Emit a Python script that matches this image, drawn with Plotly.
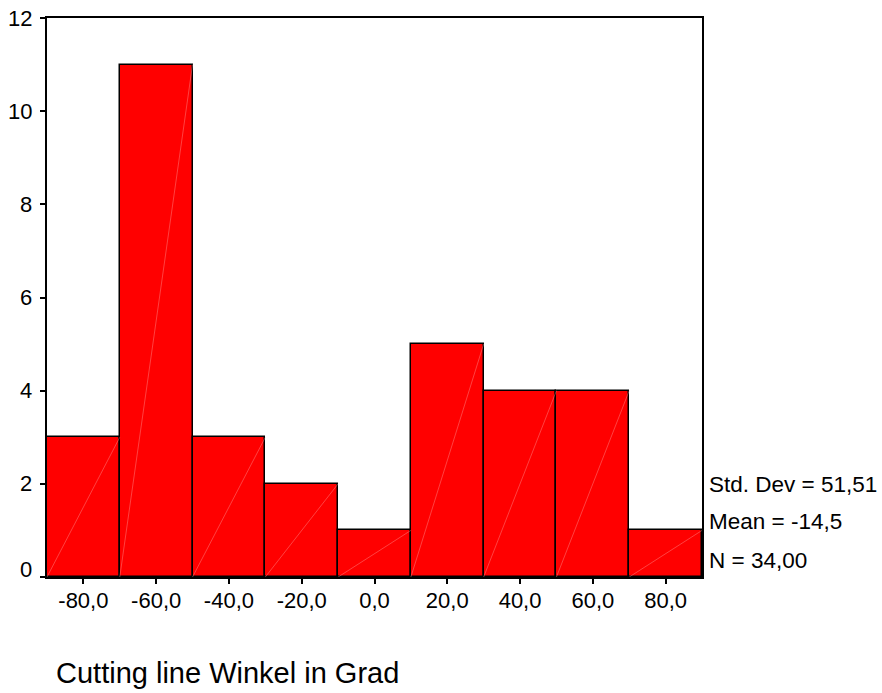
import plotly.graph_objects as go

# Histogram of cutting-line angles (degrees), bin width 20
bin_centers = [-80, -60, -40, -20, 0, 20, 40, 60, 80]
counts = [3, 11, 3, 2, 1, 5, 4, 4, 1]
bin_width = 20
tick_values = [-80, -60, -40, -20, 0, 20, 40, 60, 80]
tick_labels = ["-80,0", "-60,0", "-40,0", "-20,0", "0,0", "20,0", "40,0", "60,0", "80,0"]
y_ticks = [0, 2, 4, 6, 8, 10, 12]
stats_lines = ["Std. Dev = 51,51", "Mean = -14,5", "N = 34,00"]
x_title = "Cutting line Winkel in Grad"

FONT = "Liberation Sans, Arial, sans-serif"

fig = go.Figure()
fig.add_trace(go.Bar(
    x=bin_centers, y=counts, width=bin_width,
    marker=dict(color="#ff0000", line=dict(color="black", width=1.5)),
    hoverinfo="x+y",
))

# faint diagonal seams inside each bar (bottom-left to top-right)
diag_x, diag_y = [], []
for c, n in zip(bin_centers, counts):
    diag_x += [c - bin_width / 2, c + bin_width / 2, None]
    diag_y += [0, n, None]
fig.add_trace(go.Scatter(
    x=diag_x, y=diag_y, mode="lines",
    line=dict(color="rgba(255,170,170,0.55)", width=0.7),
    hoverinfo="skip",
))

ann = []
# y tick labels as annotations so the bottom one can sit slightly above its tick
for v in y_ticks:
    ann.append(dict(text=str(v), xref="paper", yref="y", x=0, y=v,
                    xanchor="right", yanchor="middle", showarrow=False,
                    xshift=-13, yshift=8 if v == 0 else 0,
                    font=dict(family=FONT, size=22, color="black")))
for text, yp in zip(stats_lines, [0.1646, 0.0984, 0.0304]):
    ann.append(dict(text=text, xref="paper", yref="paper", x=1.007, y=yp,
                    xanchor="left", yanchor="middle", showarrow=False,
                    font=dict(family=FONT, size=22.5, color="black")))
ann.append(dict(text=x_title, xref="paper", yref="paper", x=0.011, y=-0.1717,
                xanchor="left", yanchor="middle", showarrow=False,
                font=dict(family=FONT, size=29, color="black")))

fig.update_layout(
    width=882, height=693,
    margin=dict(l=47, r=180, t=18, b=116),
    paper_bgcolor="white", plot_bgcolor="white",
    showlegend=False, bargap=0,
    font=dict(family=FONT, size=22, color="black"),
    annotations=ann,
)
fig.update_xaxes(
    range=[-90, 90], tickmode="array", tickvals=tick_values, ticktext=tick_labels,
    showgrid=False, zeroline=False, showline=True, linecolor="black", linewidth=1.5,
    mirror=True, ticks="outside", ticklen=5, tickwidth=1.5, tickcolor="black",
    tickfont=dict(family=FONT, size=22), ticklabelstandoff=-2,
)
fig.update_yaxes(
    range=[0, 12], tickmode="array", tickvals=y_ticks, showticklabels=False,
    showgrid=False, zeroline=False, showline=True, linecolor="black", linewidth=1.5,
    mirror=True, ticks="outside", ticklen=5, tickwidth=1.5, tickcolor="black",
)

fig.write_html("out.html")
